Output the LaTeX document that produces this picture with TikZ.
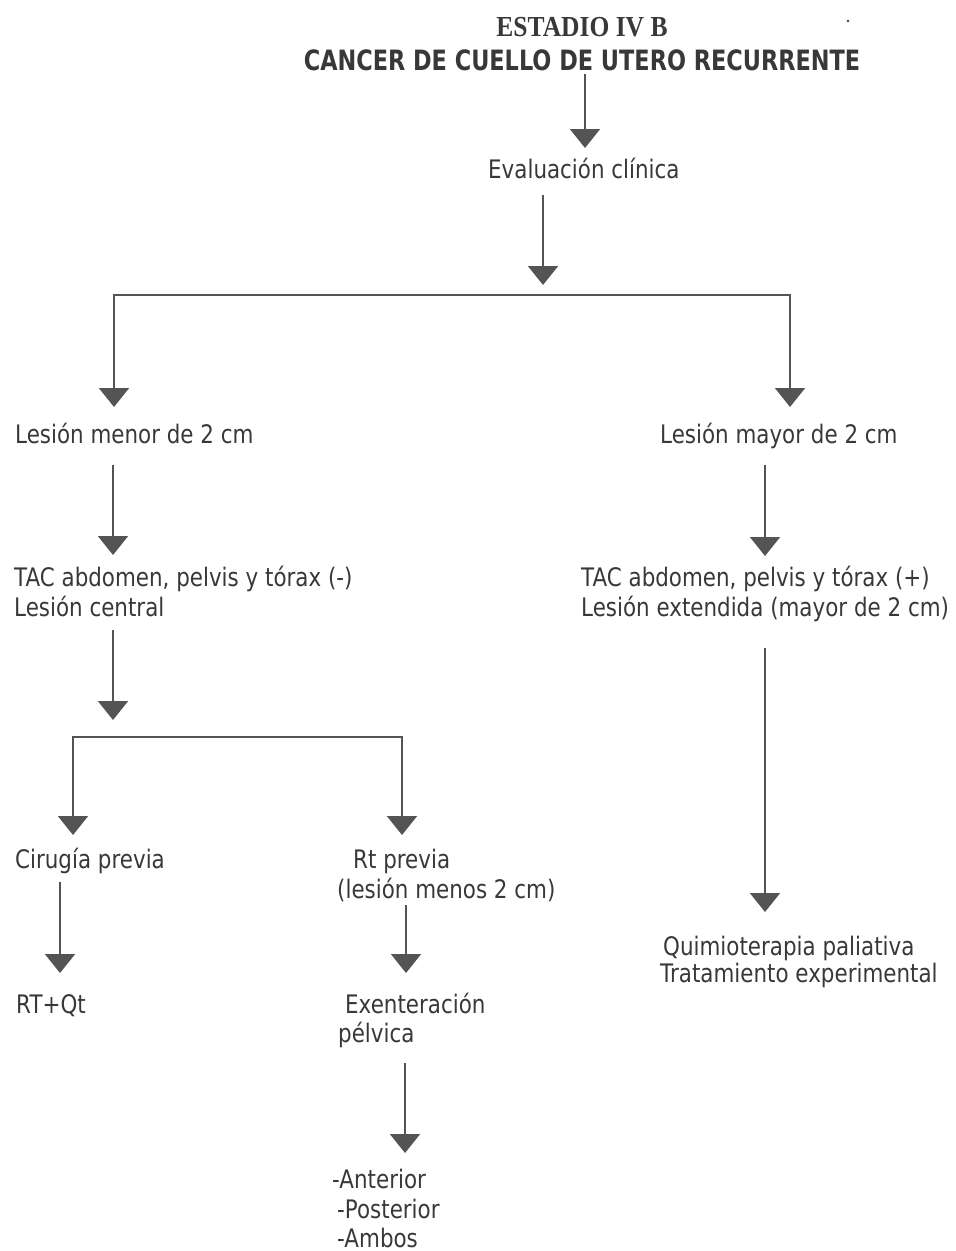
\documentclass[tikz,border=0pt]{standalone}
\usepackage{fontspec}
\setmainfont[FakeStretch=0.84]{DejaVu Sans}
\newfontfamily\titlesans[FakeStretch=0.8]{DejaVu Sans}
\newfontfamily\titleserif[FakeStretch=0.88]{Liberation Serif}
\usetikzlibrary{arrows.meta}
\definecolor{ink}{gray}{0.22}
\definecolor{linegray}{gray}{0.33}
\begin{document}
\begin{tikzpicture}[x=1pt,y=-1pt,
  lbl/.style={anchor=base west, inner sep=0pt, text=ink, font=\fontsize{25.5}{30}\selectfont},
  ttl/.style={anchor=base, inner sep=0pt, text=ink},
  arr/.style={draw=linegray, line width=1.8pt, -{Triangle[width=30pt,length=19pt]}},
  conn/.style={draw=linegray, line width=1.8pt, line cap=rect}]
\useasboundingbox (0,0) rectangle (956,1251);

% titles
\node[ttl, font=\titleserif\bfseries\fontsize{29}{34}\selectfont] (t1) at (582,36) {ESTADIO IV B};
\node[ttl, font=\titlesans\bfseries\fontsize{28}{34}\selectfont] (t2) at (582,70) {CANCER DE CUELLO DE UTERO RECURRENTE};
\node[circle, fill=ink, inner sep=1pt] (speck) at (848,21) {};

% text nodes
\node[lbl] (eval) at (488,178) {Evaluación clínica};
\node[lbl] (lmen) at (15,443) {Lesión menor de 2 cm};
\node[lbl] (lmay) at (660,443) {Lesión mayor de 2 cm};
\node[lbl] (taca) at (14,586) {TAC abdomen, pelvis y tórax (-)};
\node[lbl] (tacb) at (14,616) {Lesión central};
\node[lbl] (tacc) at (581,586) {TAC abdomen, pelvis y tórax (+)};
\node[lbl] (tacd) at (581,616) {Lesión extendida (mayor de 2 cm)};
\node[lbl] (cir) at (15,868) {Cirugía previa};
\node[lbl] (rta) at (353,868) {Rt previa};
\node[lbl] (rtb) at (337,898) {(lesión menos 2 cm)};
\node[lbl] (rtqt) at (16,1013) {RT+Qt};
\node[lbl] (exa) at (345,1013) {Exenteración};
\node[lbl] (exb) at (338,1042) {pélvica};
\node[lbl] (ant) at (332,1188) {-Anterior};
\node[lbl] (post) at (337,1218) {-Posterior};
\node[lbl] (amb) at (337,1247) {-Ambos};
\node[lbl] (qa) at (663,955) {Quimioterapia paliativa};
\node[lbl] (qb) at (660,982) {Tratamiento experimental};

% connector end points
\coordinate (a1s) at (585,74);   \coordinate (a1e) at (585,148);
\coordinate (a2s) at (543,195);  \coordinate (a2e) at (543,285);
\coordinate (h1l) at (114,295);  \coordinate (h1r) at (790,295);
\coordinate (l1e) at (114,407);  \coordinate (r1e) at (790,407);
\coordinate (a3s) at (113,465);  \coordinate (a3e) at (113,555);
\coordinate (a4s) at (765,465);  \coordinate (a4e) at (765,556);
\coordinate (a5s) at (113,630);  \coordinate (a5e) at (113,720);
\coordinate (h2l) at (73,737);   \coordinate (h2r) at (402,737);
\coordinate (l2e) at (73,835);   \coordinate (r2e) at (402,835);
\coordinate (a6s) at (765,648);  \coordinate (a6e) at (765,912);
\coordinate (a7s) at (60,882);   \coordinate (a7e) at (60,973);
\coordinate (a8s) at (406,905);  \coordinate (a8e) at (406,973);
\coordinate (a9s) at (405,1063); \coordinate (a9e) at (405,1153);

% connectors
\draw[arr] (a1s) -- (a1e);
\draw[arr] (a2s) -- (a2e);
\draw[conn] (h1l) -- (h1r);
\draw[arr] (h1l) -- (l1e);
\draw[arr] (h1r) -- (r1e);
\draw[arr] (a3s) -- (a3e);
\draw[arr] (a4s) -- (a4e);
\draw[arr] (a5s) -- (a5e);
\draw[conn] (h2l) -- (h2r);
\draw[arr] (h2l) -- (l2e);
\draw[arr] (h2r) -- (r2e);
\draw[arr] (a6s) -- (a6e);
\draw[arr] (a7s) -- (a7e);
\draw[arr] (a8s) -- (a8e);
\draw[arr] (a9s) -- (a9e);
\end{tikzpicture}
\end{document}
